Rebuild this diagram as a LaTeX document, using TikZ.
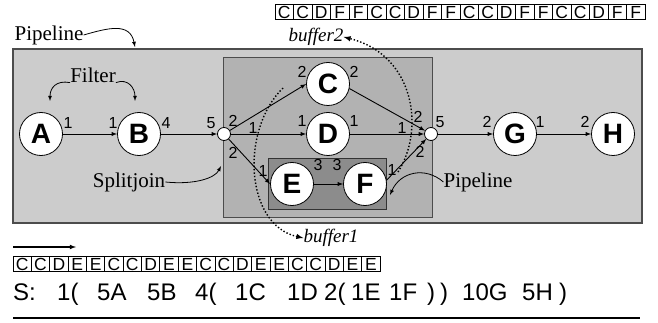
\documentclass[tikz,border=0pt]{standalone}
\usepackage{fontspec}
\setmainfont{Liberation Serif}
\setsansfont{Liberation Sans}
\usetikzlibrary{shapes,arrows,positioning,calc}

\begin{document}
\begin{tikzpicture}[x=1pt,y=-1pt,
  filt/.style={draw, circle, fill=white, minimum size=43pt, inner sep=0pt, line width=0.8pt, font=\sffamily\bfseries\fontsize{28}{28}\selectfont},
  port/.style={draw, circle, fill=white, minimum size=13pt, inner sep=0pt, line width=0.8pt},
  num/.style={inner sep=0pt, font=\sffamily\fontsize{16}{16}\selectfont},
  lbl/.style={inner sep=0pt, font=\fontsize{21}{21}\selectfont},
  buf/.style={inner sep=0pt, font=\itshape\fontsize{19}{19}\selectfont},
  cell/.style={draw, inner sep=0pt, line width=0.7pt, minimum height=15pt, font=\sffamily\fontsize{17.5}{17.5}\selectfont},
  seq/.style={inner sep=0pt, anchor=base west, font=\sffamily\fontsize{24}{24}\selectfont},
  flow/.style={-latex, line width=0.9pt},
  note/.style={-latex, line width=0.8pt},
  spill/.style={-latex, line width=1.4pt, dotted}]
  \useasboundingbox (0,0) rectangle (658,323);
  % stream graph boxes
  \draw[fill=gray!40, draw=black!70, line width=1.5pt] (13,49) rectangle (642,223);
  \draw[fill=gray!60, draw=black!70, line width=0.8pt] (223,57) rectangle (432,217);
  \draw[fill=gray!90, draw=black!80, line width=0.8pt] (268,158) rectangle (386,209);
  % filters
  \node[filt] (A) at (41,134) {A};
  \node[filt] (B) at (139,134) {B};
  \node[port] (split) at (224,134) {};
  \node[filt] (C) at (328,84) {C};
  \node[filt] (D) at (328,134) {D};
  \node[filt] (E) at (292,184) {E};
  \node[filt] (F) at (365,184) {F};
  \node[port] (join) at (431,134) {};
  \node[filt] (G) at (515,134) {G};
  \node[filt] (H) at (613,134) {H};
  % channels
  \draw[flow] (A) -- (B);
  \draw[flow] (B) -- (split);
  \draw[flow] (split) -- (C.west);
  \draw[flow] (split) -- (D);
  \draw[flow] (split) -- (E.west);
  \draw[flow] (E) -- (F);
  \draw[flow] (C.-12) -- (join);
  \draw[flow] (D) -- (join);
  \draw[flow] (F.10) -- (join);
  \draw[flow] (join) -- (G);
  \draw[flow] (G) -- (H);
  % rates
  \node[num] (rA) at (68,123) {1};
  \node[num] (rB1) at (113,123) {1};
  \node[num] (rB2) at (166,123) {4};
  \node[num] (rS1) at (211,123) {5};
  \node[num] (rS2) at (233,121) {2};
  \node[num] (rS3) at (253,128) {1};
  \node[num] (rS4) at (233,153) {2};
  \node[num] (rC1) at (302,72) {2};
  \node[num] (rC2) at (354,72) {2};
  \node[num] (rD1) at (302,121) {1};
  \node[num] (rD2) at (354,121) {1};
  \node[num] (rE1) at (263,171) {1};
  \node[num] (rE2) at (318,165) {3};
  \node[num] (rF1) at (337,165) {3};
  \node[num] (rF2) at (392,170) {1};
  \node[num] (rJ1) at (402,128) {1};
  \node[num] (rJ2) at (418,117) {2};
  \node[num] (rJ3) at (440,122) {5};
  \node[num] (rJ4) at (420,152) {2};
  \node[num] (rG1) at (487,122) {2};
  \node[num] (rG2) at (540,122) {1};
  \node[num] (rH) at (585,122) {2};
  % annotations
  \node[lbl] (pipetop) at (49,35) {Pipeline};
  \node[lbl] (filter) at (93,75) {Filter};
  \node[lbl] (sj) at (129,182) {Splitjoin};
  \node[lbl] (piperight) at (478,182) {Pipeline};
  \coordinate (ptip) at (135,47);
  \coordinate (fa) at (50,101);
  \coordinate (fb) at (135,101);
  \coordinate (sjtip) at (221,166);
  \coordinate (prtip) at (390,195);
  \draw[note] (pipetop.east) .. controls (108,28) and (130,22) .. (ptip);
  \draw[note] (filter.south west) .. controls (56,80) and (50,88) .. (fa);
  \draw[note] (filter.south east) .. controls (128,78) and (135,88) .. (fb);
  \draw[note] (sj.east) .. controls (195,185) and (215,178) .. (sjtip);
  \draw[note] (piperight.west) .. controls (425,166) and (400,172) .. (prtip);
  % buffers
  \node[buf] (buf2) at (316,37) {buffer2};
  \node[buf] (buf1) at (331,238) {buffer1};
  \coordinate (b2s) at (398,172);
  \coordinate (b1s) at (283,88);
  \draw[spill] (b2s) .. controls (425,130) and (415,55) .. (buf2.east);
  \draw[spill] (b1s) .. controls (240,130) and (245,225) .. (buf1.west);
  \foreach \c [count=\i from 0] in {C,C,D,F,F,C,C,D,F,F,C,C,D,F,F,C,C,D,F,F}
    \node[cell, minimum width=18.5pt] (top\i) at (284.25+18.5*\i,12) {\c};
  \foreach \c [count=\i from 0] in {C,C,D,E,E,C,C,D,E,E,C,C,D,E,E,C,C,D,E,E}
    \node[cell, minimum width=18.35pt] (bot\i) at (22.2+18.35*\i,264) {\c};
  \coordinate (qa) at (13,247);
  \coordinate (qb) at (76,247);
  \draw[flow, line width=1.1pt] (qa) -- (qb);
  % schedule
  \foreach \x/\t [count=\k] in {13/S:,57/1(,97/5A,147/5B,195/4(,235/1C,287/1D,324/2(,351/1E,389/1F,427/),440/),462/10G,522/5H,559/)}
    \node[seq] (s\k) at (\x,300) {\t};
  \draw[line width=2pt] (13,318) -- (640,318);
\end{tikzpicture}
\end{document}
